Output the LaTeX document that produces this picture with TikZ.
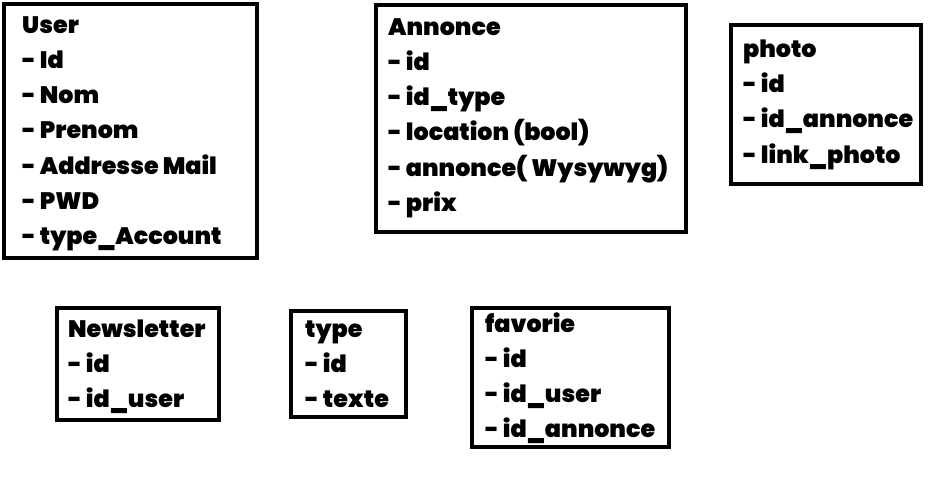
\documentclass[tikz,border=0pt]{standalone}
\usepackage{fontspec}
\setmainfont{Poppins}[BoldFont={Poppins Black}]
\begin{document}
\begin{tikzpicture}[x=1pt,y=-1pt,
  tbl/.style={draw=black,line width=4.5pt,fill=white},
  txt/.style={anchor=base west,inner sep=0pt,font=\fontsize{23.8}{23.8}\selectfont\bfseries}]
\useasboundingbox[fill=white] (0,0) rectangle (950,484);
% boxes
\draw[tbl] (4,4) rectangle (257,258) coordinate (userbox);
\draw[tbl] (376,5) rectangle (686,232);
\draw[tbl] (731,25) rectangle (921,184);
\draw[tbl] (57,308) rectangle (219,420);
\draw[tbl] (291,311) rectangle (406,417);
\draw[tbl] (472,308) rectangle (669,447);
% texts
\foreach \t [count=\i from 0] in {User,- Id,- Nom,- Prenom,- Addresse Mail,- PWD,- type\_Account}
  \node[txt] (u\i) at (22,{34+35*\i}) {\t};
\foreach \t [count=\i from 0] in {Annonce,- id,- id\_type,- location (bool),{- annonce( Wysywyg)},- prix}
  \node[txt] (a\i) at (388,{36+35*\i}) {\t};
\foreach \t [count=\i from 0] in {photo,- id,- id\_annonce,- link\_photo}
  \node[txt] (p\i) at (743,{58+35*\i}) {\t};
\foreach \t [count=\i from 0] in {Newsletter,- id,- id\_user}
  \node[txt] (n\i) at (68,{337+35*\i}) {\t};
\foreach \t [count=\i from 0] in {type,- id,- texte}
  \node[txt] (t\i) at (305,{337+35*\i}) {\t};
\foreach \t [count=\i from 0] in {favorie,- id,- id\_user,- id\_annonce}
  \node[txt] (f\i) at (485,{332+35*\i}) {\t};
\end{tikzpicture}
\end{document}
